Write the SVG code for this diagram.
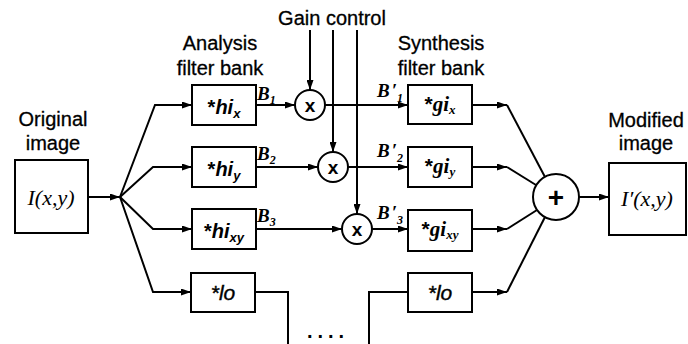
<svg xmlns="http://www.w3.org/2000/svg" width="688" height="344" viewBox="0 0 688 344">
<defs>
<marker id="ar" viewBox="0 0 10 7" refX="10" refY="3.5" markerWidth="11" markerHeight="7" markerUnits="userSpaceOnUse" orient="auto">
<path d="M0,0 L10,3.5 L0,7 z" fill="#000"/>
</marker>
<style>
.box{fill:#fff;stroke:#000;stroke-width:2}
.cir{fill:#fff;stroke:#000;stroke-width:2}
.ln{fill:none;stroke:#000;stroke-width:2}
.a{marker-end:url(#ar)}
.lbl{font-family:"Liberation Sans",Arial,sans-serif;font-size:20px;fill:#000;text-anchor:middle;stroke:#000;stroke-width:0.3}
.fs{font-family:"Liberation Sans",Arial,sans-serif;font-size:20px;font-weight:bold;fill:#000;text-anchor:middle}
.fg{font-family:"Liberation Serif","Times New Roman",serif;font-size:21px;font-weight:bold;font-style:italic;fill:#000}
.im{font-family:"Liberation Serif","Times New Roman",serif;font-size:22px;font-style:italic;fill:#000;text-anchor:middle}
.b{font-family:"Liberation Serif","Times New Roman",serif;font-size:19px;font-style:italic;font-weight:bold;fill:#000}
.op{font-family:"Liberation Sans",Arial,sans-serif;font-weight:bold;fill:#000;text-anchor:middle}
.lo{font-family:"Liberation Sans",Arial,sans-serif;font-size:21px;fill:#000;text-anchor:middle;font-style:italic;stroke:#000;stroke-width:0.4}
</style>
</defs>

<g id="connectors">
<line class="ln a" x1="88" y1="197" x2="120" y2="197"/>
<polyline class="ln a" points="120,197 155,105 192,105"/>
<polyline class="ln a" points="120,197 153,167 192,167"/>
<polyline class="ln a" points="120,197 153,229 192,229"/>
<polyline class="ln a" points="120,197 153,292 191,292"/>
<line class="ln a" x1="256" y1="105" x2="295" y2="105"/>
<line class="ln a" x1="325" y1="105" x2="408" y2="105"/>
<line class="ln a" x1="256" y1="167" x2="318" y2="167"/>
<line class="ln a" x1="348" y1="167" x2="408" y2="167"/>
<line class="ln a" x1="256" y1="229" x2="342" y2="229"/>
<line class="ln a" x1="372" y1="229" x2="408" y2="229"/>
<line class="ln a" x1="310" y1="30" x2="310" y2="90"/>
<line class="ln a" x1="333" y1="30" x2="333" y2="152"/>
<line class="ln a" x1="357" y1="30" x2="357" y2="214"/>
<line class="ln a" x1="472" y1="105" x2="507" y2="105"/>
<line class="ln" x1="507" y1="105" x2="545" y2="177"/>
<line class="ln a" x1="472" y1="167" x2="507" y2="167"/>
<line class="ln" x1="507" y1="167" x2="536" y2="185"/>
<line class="ln a" x1="472" y1="229" x2="507" y2="229"/>
<line class="ln" x1="507" y1="229" x2="537" y2="210"/>
<line class="ln a" x1="472" y1="292" x2="507" y2="292"/>
<line class="ln" x1="507" y1="292" x2="545" y2="217"/>
<line class="ln a" x1="579" y1="197" x2="609" y2="197"/>
<polyline class="ln" points="256,292 288,292 288,344"/>
<polyline class="ln" points="369,344 369,292 408,292"/>
</g>

<g id="labels">
<text class="lbl" x="332" y="25">Gain control</text>
<text class="lbl" x="220" y="50">Analysis</text>
<text class="lbl" x="220" y="75">filter bank</text>
<text class="lbl" x="441" y="50">Synthesis</text>
<text class="lbl" x="441" y="75">filter bank</text>
<text class="lbl" x="53" y="126">Original</text>
<text class="lbl" x="53" y="150">image</text>
<text class="lbl" x="646" y="127">Modified</text>
<text class="lbl" x="646" y="150">image</text>
<text class="b" x="257" y="100">B<tspan font-size="12" dy="4">1</tspan></text>
<text class="b" x="257" y="160">B<tspan font-size="12" dy="4">2</tspan></text>
<text class="b" x="257" y="222">B<tspan font-size="12" dy="4">3</tspan></text>
<text class="b" x="377" y="97">B<tspan dx="2">′</tspan><tspan font-size="12" dy="5">1</tspan></text>
<text class="b" x="377" y="157">B<tspan dx="2">′</tspan><tspan font-size="12" dy="5">2</tspan></text>
<text class="b" x="377" y="219">B<tspan dx="2">′</tspan><tspan font-size="12" dy="5">3</tspan></text>
<text class="fs" x="328" y="338" letter-spacing="5">....</text>
</g>

<g id="original">
<rect class="box" x="15" y="160" width="73" height="73"/>
<text class="im" x="51" y="205">I(x,y)</text>
</g>

<g id="hi-x">
<rect class="box" x="192" y="85" width="64" height="40"/>
<text class="fs" x="224" y="114">*<tspan font-style="italic">hi</tspan><tspan font-size="13" font-style="italic" dy="4">x</tspan></text>
</g>
<g id="hi-y">
<rect class="box" x="192" y="147" width="64" height="40"/>
<text class="fs" x="224" y="176">*<tspan font-style="italic">hi</tspan><tspan font-size="13" font-style="italic" dy="4">y</tspan></text>
</g>
<g id="hi-xy">
<rect class="box" x="192" y="209" width="64" height="40"/>
<text class="fs" x="224" y="238">*<tspan font-style="italic">hi</tspan><tspan font-size="13" font-style="italic" dy="4">xy</tspan></text>
</g>
<g id="lo-a">
<rect class="box" x="191" y="273" width="64" height="39"/>
<text class="lo" x="223" y="300">*lo</text>
</g>

<g id="mult1">
<circle class="cir" cx="310" cy="105" r="15"/>
<text class="op" x="310" y="112" font-size="19">x</text>
</g>
<g id="mult2">
<circle class="cir" cx="333" cy="167" r="15"/>
<text class="op" x="333" y="174" font-size="19">x</text>
</g>
<g id="mult3">
<circle class="cir" cx="357" cy="229" r="15"/>
<text class="op" x="357" y="236" font-size="19">x</text>
</g>

<g id="gi-x">
<rect class="box" x="408" y="85" width="64" height="39"/>
<text class="fg" x="440" y="111" text-anchor="middle"><tspan font-family="Liberation Sans,sans-serif" font-style="normal">*</tspan>gi<tspan font-size="13" dy="3">x</tspan></text>
</g>
<g id="gi-y">
<rect class="box" x="408" y="147" width="64" height="40"/>
<text class="fg" x="440" y="173" text-anchor="middle"><tspan font-family="Liberation Sans,sans-serif" font-style="normal">*</tspan>gi<tspan font-size="13" dy="3">y</tspan></text>
</g>
<g id="gi-xy">
<rect class="box" x="408" y="210" width="64" height="41"/>
<text class="fg" x="440" y="236" text-anchor="middle"><tspan font-family="Liberation Sans,sans-serif" font-style="normal">*</tspan>gi<tspan font-size="13" dy="3">xy</tspan></text>
</g>
<g id="lo-s">
<rect class="box" x="408" y="273" width="64" height="39"/>
<text class="lo" x="440" y="300">*lo</text>
</g>

<g id="sum">
<circle class="cir" cx="556" cy="197" r="23"/>
<text class="op" x="556" y="207" font-size="28">+</text>
</g>

<g id="modified">
<rect class="box" x="609" y="163" width="77" height="72"/>
<text class="im" x="647" y="206">I′(x,y)</text>
</g>
</svg>
